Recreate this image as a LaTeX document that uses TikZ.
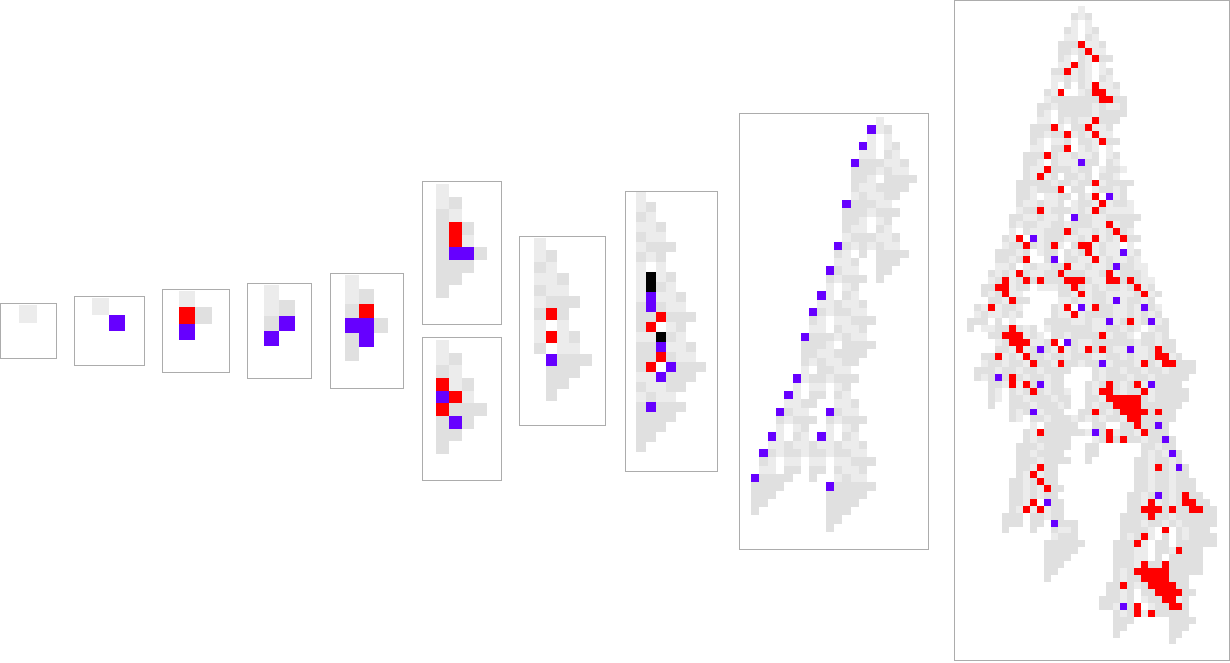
\documentclass[tikz,border=0pt]{standalone}
\definecolor{gca}{RGB}{236,236,236}
\definecolor{gcb}{RGB}{224,224,224}
\definecolor{gcr}{RGB}{255,0,0}
\definecolor{gcp}{RGB}{102,0,255}
\definecolor{gck}{RGB}{0,0,0}
\definecolor{framecol}{RGB}{172,172,172}
\tikzset{panel/.style={draw=framecol, line width=0.75pt}}
\def\growend{@@}
% #1 x0, #2 y0, #3 cell size, #4 comma list of rows
\newcommand\cellgrid[4]{\def\gx{#1}\def\gy{#2}\def\gs{#3}\def\gr{0}\parserows#4,@@,}
\def\parserows#1,{\def\gtmp{#1}\ifx\gtmp\growend\let\gnext\relax\else\def\gnext{\onerow{#1}\parserows}\fi\gnext}
\def\onerow#1{\pgfmathsetmacro\gcy{\gy+\gr*\gs}\let\gcx\gx\parsecells#1\relax\pgfmathsetmacro\gr{\gr+1}}
\def\parsecells#1{\ifx#1\relax\let\gnext\relax\else\def\gnext{\onecell#1\parsecells}\fi\gnext}
\def\onecell#1{\if#1-\else\fill[gc#1] (\gcx,\gcy) rectangle ++(\gs,\gs);\fi\pgfmathsetmacro\gcx{\gcx+\gs}}
\begin{document}
\begin{tikzpicture}[x=0.75pt,y=-0.75pt]
\useasboundingbox (0,0) rectangle (1230,662);
% panel 1
\cellgrid{1.5}{305}{17.6}{-a}
\draw[panel] (0.7,303.5) rectangle (56,358.3);
% panel 2
\cellgrid{75.5}{298}{16.6}{-a,--p}
\draw[panel] (74.3,296.3) rectangle (144.3,365.3);
% panel 3
\cellgrid{162.7}{291}{16.3}{-a,-rb,-p}
\draw[panel] (162.5,289.5) rectangle (229.3,372.3);
% panel 4
\cellgrid{248.7}{285}{15.3}{-a,-ab,-bp,-p}
\draw[panel] (247.3,283.3) rectangle (311.3,378.3);
% panel 5
\cellgrid{330.4}{275}{14.4}{-a,-ab,-br,-ppb,-bp,-b}
\draw[panel] (330,273.3) rectangle (403.3,388.3);
% panel 6 top
\cellgrid{423.7}{184}{12.65}{-a,-ab,-ba,-brb,-bra,-bppb,-bbb,-bb,-b}
\draw[panel] (422,181) rectangle (501,324.3);
% panel 6 bottom
\cellgrid{423.7}{340}{12.65}{-a,-ab,-ba,-rab,-pra,-rbbb,-bpb,-bb,-b}
\draw[panel] (422,337.3) rectangle (501,480);
% panel 7
\cellgrid{522.4}{238.3}{11.6}{-a,-ab,-ba,-aab,-baa,-abbb,-brb,-a-a,-arab,-b-aa,--pbbb,--bbb,--bb,--b}
\draw[panel] (519.7,236) rectangle (605,425);
% panel 8
\cellgrid{625.7}{191.7}{10}{-a,-ab,-ba,-aab,-baa,-abbb,-bab,-a-a,-akab,-akba,-apaab,-bpbaa,-bbrbbb,-br-ab,-aakba,-bbpaab,-bbrbaa,-br-pbbb,-aapbbb,-baabb,-abaa,-bpbbb,-bbbb,-bbb,-bb,-b}
\draw[panel] (625,191) rectangle (717.7,471);
% panel 9
\cellgrid{751}{117}{8.3}{
---------------a,
--------------pab,
--------------a-a,
-------------pa-ab,
-------------aa-ba,
------------pbbbaab,
------------bbbabaa,
------------bba-bbbb,
------------baabbbb,
------------abaabb,
-----------pbbbaa,
-----------bbbabbb,
-----------bba-ab,
-----------baa-ba,
-----------abbbaab,
----------pbababaa,
----------ba-b-bbbb,
----------aab--bbb,
---------pbaa--bb,
---------babbb-b,
---------a-ab,
--------pa-ba,
--------aabaab,
-------pbabbaa,
-------ba-aabbb,
-------aa-baab,
------pbbbabaa,
------bbba-bbbb,
------bbaabbbb,
------babaabb,
------a-bbaa,
-----pabbabbb,
-----a-aa-ab,
----pa-bb-ba,
----aabb--aab,
---pbaa--pbaa,
---babbb-babbb,
---a-ab--a-ab,
--pa-ba-pa-ba,
--aabaabaabaab,
-pbabbabbabbaa,
-ba-aa-aa-aabbb,
-aa-bb-bb-baab,
pbbbb--b--abaa,
bbbb-----pbbbbb,
bbb------bbbbb,
bb-------bbbb,
b--------bbb,
---------bb,
---------b}
\draw[panel] (739.7,113.3) rectangle (928.3,549);
% panel 10
\cellgrid{967.3}{6}{6.94}{
----------------a,
---------------bab,
---------------a-a,
--------------ba-ab,
--------------aa-ba,
-------------bbbraab,
-------------bbabraa,
-------------ba-barbb,
-------------aarba-a,
------------bbraba-ab,
------------aababa-ba,
------------a-b-baraab,
-----------bar--abrraa,
-----------abbbbbbbrrbb,
----------bbabbbbbabaab,
----------ba-bbbbbabbbb,
----------aa-babaarbbb,
---------bbbra-bbraab,
---------bbabbrabaraa,
---------ba-aab-bbarbb,
---------aa-bbr-aba-a,
--------bbbrbaabaab-ab,
--------bba-baaapbb-ba,
--------baarbbbabb-abba,
--------barab-bbab-bba,
-------bbbbbabbabbrabbbb,
-------bbabbbr-bb-abbab,
-------bba-aabb-bar-pab,
-------baabaab-abbarabba,
-------abbrabbbabarbaaaa,
------bbaabaab-pbbaabbbbb,
------babbaabbabbbaarabb,
------a-baabbbrbaababrba,
-----bar-pabbbaabarabarbb,
-----abbrbabra-brrabaa-a,
----bbbab-abb-babrabaapab,
----bbabr--bp-bbaarabaaba,
----aab-abaabbraabaabpbbaa,
---babarbaabbrbbbaabrabbba,
---abrabrbrbbbrrrbaarrbrbaa,
--bbrrabb-aaabbrbababbabrab,
--babraa-----bbarabbaaaabrab,
---bbarbb----aabaabbapabbab,
-barabba----bar-parbbaabapba,
-abaabab----baarabbbbaababab,
bbb-b-a----bbbbaabaapabrabpab,
b-aabbrbab-abbbbbbaabbaba-abb,
---bbrrraba-bbabbbbrabba-bbab,
----abrrraabr-pbaabbbbbbabbabb,
----bbarabpbarabarbrbaapaabrbb,
--bbrabarbbabbabbbaabbabaabrrab,
--abbabbarbbarbbabbpabbbarbarrbbb,
-bbbabbabbabbbb---babbabbabbabbbb,
-babpbrbabbabb----babbbabbabbbbb,
---bbararbpabb---babrbabrapbbbb,
---ba-babrbabba--barrbabbrabbbbb,
---ba-bbabbbabb--bbarrrrrbabbbbb,
---b--bbbabbbab--babbrrrrbbbbbb,
------babpabbb--bbrbabrrrrbrbb,
------ba-bbabbbabababbarrbbbbb,
---------a-bbbbb--bb--bbrbbpb,
--------barbbbbbbapbrabbarbbb,
--------babbbbb---abrbrbbabbpb,
-------bbbabbbb--bb------bbabb,
-------bbabbbb---bb------babapb,
-------bbbabbbb--b------bbabbab,
-------bbarbb-----------bbarbapb,
-------barabb-----------bbabbabb,
------bbabrbb-----------bbabbabbb,
------bbabarbb----------bbabbabbb,
------bbababb----------bbabpbabrbb,
------bbar-pbb---------bbarababrrbb,
------bararabb---------bbrrrbrbbrrbb,
-----bbb-bbabb--------bbbbrbbabbbbbb,
-----bbb-bb-pbbb------bbbabbababbbbb,
-----b---b--baab------bbbba-r-babbb,
------------abbb------babra-b-babbbb,
-----------bbbbbb----bbbra-bb-bbbbbb,
-----------bbbbb-----bbbaa-bbarbbb,
-----------bbbb------bbbaa-b-bbbbb,
-----------bbb-------bbbarbbrbbbbb,
-----------bb--------babrrrrrbbbbb,
-----------b---------babbrrrrbbb,
--------------------bbrbabrrrrbb,
--------------------bbab-bbrrrrbb,
-------------------bbbab-abbrrab,
-------------------bbapbr-abbrrb,
---------------------babrarbbbbb,
---------------------bbb-----bbbb,
---------------------bb------bbb,
---------------------b-------bb,
-----------------------------b}
\draw[panel] (954.7,0.7) rectangle (1229.3,660.7);
\end{tikzpicture}
\end{document}
